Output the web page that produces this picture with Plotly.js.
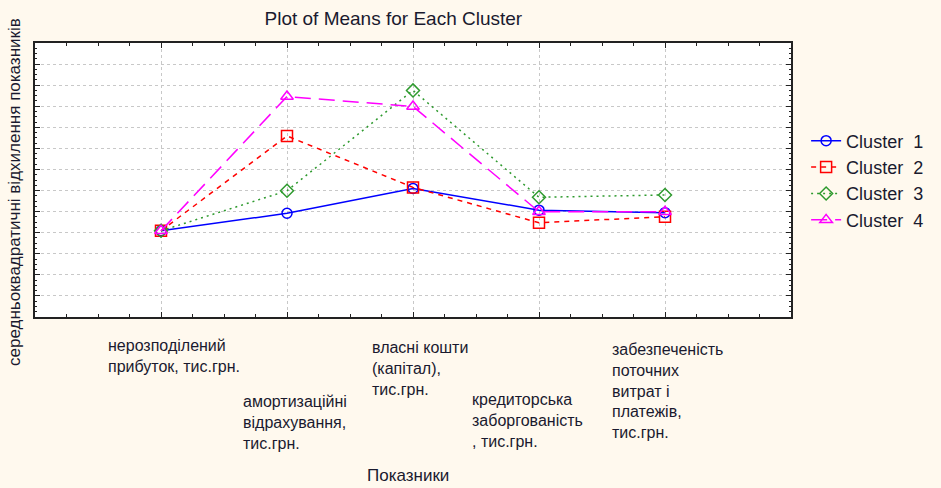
<!DOCTYPE html>
<html>
<head>
<meta charset="utf-8">
<script src="https://cdn.plot.ly/plotly-3.0.1.min.js"></script>
<style>html,body{margin:0;padding:0;background:#fff9ee;}</style>
</head>
<body>
<div id="chart" style="width:941px;height:488px;"></div>
<script>
// Categories (indicators)
const categories = [
  "нерозподілений<br>прибуток, тис.грн.",
  "амортизаційні<br>відрахування,<br>тис.грн.",
  "власні кошти<br>(капітал),<br>тис.грн.",
  "кредиторська<br>заборгованість<br>, тис.грн.",
  "забезпеченість<br>поточних<br>витрат і<br>платежів,<br>тис.грн."
];
const seriesNames = ["Cluster  1", "Cluster  2", "Cluster  3", "Cluster  4"];
// Cluster means (in gridline units)
const cluster1 = [4.09, 4.92, 6.10, 5.07, 4.95];
const cluster2 = [4.09, 8.59, 6.15, 4.47, 4.76];
const cluster3 = [4.09, 5.99, 10.75, 5.68, 5.79];
const cluster4 = [4.09, 10.46, 9.99, 4.99, 4.99];

const xIdx = categories.map((_, i) => i);
const FONT = "Liberation Sans, Arial, sans-serif";
const TXT = "#1a1a2e";

const styles = [
  {color: "#0000ff", dash: "solid", symbol: "circle-open", size: 10},
  {color: "#ff0000", dash: "5px,5px", symbol: "square-open", size: 11},
  {color: "#2e9a2e", dash: "2px,4px", symbol: "diamond-open", size: 10},
  {color: "#ff00ff", dash: "16px,8px", symbol: "triangle-up-open", size: 11}
];
const values = [cluster1, cluster2, cluster3, cluster4];

const traces = values.map((v, k) => ({
  x: xIdx, y: v, name: seriesNames[k], type: "scatter", mode: "lines+markers",
  line: {color: styles[k].color, width: 1.5, dash: styles[k].dash},
  marker: {symbol: styles[k].symbol, size: styles[k].size, color: styles[k].color, line: {width: 1.5, color: styles[k].color}}
}));

// label placement (layout only)
const labelShiftX = [-55, -46, -43, -69, -55];
const labelShiftY = [-18, -74, -20, -72, -22];

const annotations = categories.map((c, i) => ({
  x: i, xref: "x", y: 0, yref: "paper", text: c, showarrow: false,
  xanchor: "left", yanchor: "top", align: "left",
  xshift: labelShiftX[i], yshift: labelShiftY[i],
  font: {family: FONT, size: 16, color: TXT}
}));
annotations.push({
  x: 0, xref: "paper", y: 0.5, yref: "paper", xanchor: "center", yanchor: "middle",
  xshift: -21, yshift: -12, textangle: -90, showarrow: false,
  text: "середньоквадратичні відхилення показників",
  font: {family: FONT, size: 17, color: TXT}
});
annotations.push({
  x: 0.494, xref: "paper", y: 0, yref: "paper", xanchor: "center", yanchor: "middle",
  yshift: -158, showarrow: false, text: "Показники",
  font: {family: FONT, size: 17, color: TXT}
});

const layout = {
  width: 941, height: 488,
  paper_bgcolor: "#fff9ee", plot_bgcolor: "#ffffff",
  margin: {l: 35, r: 148, t: 43, b: 171},
  title: {text: "Plot of Means for Each Cluster", x: 0.474, xref: "paper", xanchor: "center",
          y: 0.963, yref: "container", yanchor: "middle",
          font: {family: FONT, size: 19, color: TXT}},
  xaxis: {range: [-1, 5], tickvals: xIdx, showticklabels: false, ticks: "inside", ticklen: 5,
          tickcolor: "#222", showgrid: true, gridcolor: "#c8c8c8", griddash: "dot", gridwidth: 1,
          zeroline: false, showline: true, linecolor: "#222", linewidth: 2, mirror: "ticks",
          minor: {dtick: 0.25, ticks: "inside", ticklen: 3, tickcolor: "#222", showgrid: false}},
  yaxis: {range: [0, 13], dtick: 1, tick0: 0, showticklabels: false, ticks: "inside", ticklen: 5,
          tickcolor: "#222", showgrid: true, gridcolor: "#c8c8c8", griddash: "dot", gridwidth: 1,
          zeroline: false, showline: true, linecolor: "#222", linewidth: 2, mirror: "ticks",
          minor: {dtick: 0.25, ticks: "inside", ticklen: 2, tickcolor: "#222", showgrid: false}},
  showlegend: true,
  legend: {x: 1.02, xanchor: "left", y: 0.71, yanchor: "top", bgcolor: "rgba(0,0,0,0)",
           font: {family: FONT, size: 18, color: TXT}, tracegroupgap: 0},
  annotations: annotations
};

Plotly.newPlot("chart", traces, layout, {displayModeBar: false, staticPlot: true});
</script>
</body>
</html>
